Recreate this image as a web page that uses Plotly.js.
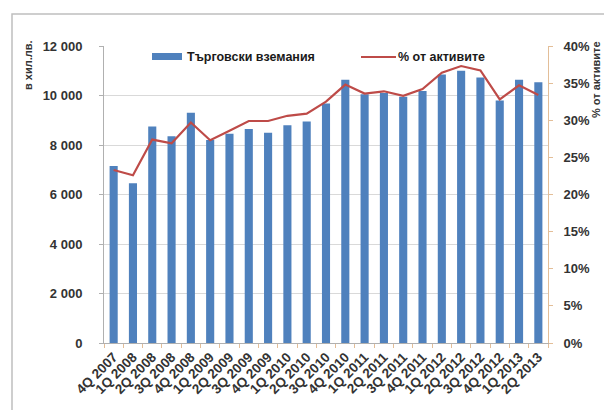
<!DOCTYPE html>
<html>
<head>
<meta charset="utf-8">
<script src="https://cdn.plot.ly/plotly-3.0.1.min.js"></script>
<style>
  html, body { margin: 0; padding: 0; background: #ffffff; }
  #chart { width: 604px; height: 410px; }
</style>
</head>
<body>
<div id="chart"></div>
<script>
// Quarters on the category axis
const quarters = [
  '4Q 2007',
  '1Q 2008', '2Q 2008', '3Q 2008', '4Q 2008',
  '1Q 2009', '2Q 2009', '3Q 2009', '4Q 2009',
  '1Q 2010', '2Q 2010', '3Q 2010', '4Q 2010',
  '1Q 2011', '2Q 2011', '3Q 2011', '4Q 2011',
  '1Q 2012', '2Q 2012', '3Q 2012', '4Q 2012',
  '1Q 2013', '2Q 2013'
];

// Trade receivables, thousand BGN
const receivables = [
  7150,
  6450, 8750, 8350, 9300,
  8200, 8450, 8650, 8500,
  8800, 8950, 9680, 10640,
  10050, 10100, 9950, 10180,
  10850, 11000, 10730, 9800,
  10640, 10540
];

// Share of total assets
const shareOfAssets = [
  0.233,
  0.226, 0.274, 0.269, 0.297,
  0.273, 0.286, 0.299, 0.299,
  0.306, 0.309, 0.325, 0.348,
  0.336, 0.339, 0.333, 0.342,
  0.364, 0.373, 0.367, 0.328,
  0.347, 0.334
];

const seriesNames = ['Търговски вземания', '% от активите'];
const leftTitle = 'в хил.лв.';
const rightTitle = '% от активите';

const W = 604, H = 410;
const M = { l: 104, r: 56, t: 46, b: 67 };
const pw = W - M.l - M.r, ph = H - M.t - M.b;
const px = x => (x - M.l) / pw;
const py = y => (H - M.b - y) / ph;

const BAR = '#4F81BD';
const LINE = '#BE4B48';
const TXT = '#333333';
const FONT = '"Liberation Sans", Arial, sans-serif';

const traces = [
  {
    type: 'bar',
    x: quarters,
    y: receivables,
    name: seriesNames[0],
    marker: { color: BAR, line: { width: 0 } },
    hoverinfo: 'x+y'
  },
  {
    type: 'scatter',
    mode: 'lines',
    x: quarters,
    y: shareOfAssets,
    yaxis: 'y2',
    name: seriesNames[1],
    line: { color: LINE, width: 2.2 },
    hoverinfo: 'x+y'
  }
];

const shapes = [
  // outer frame of the chart
  { type: 'rect', xref: 'paper', yref: 'paper',
    x0: px(12), x1: px(640), y0: py(14), y1: py(440),
    line: { color: '#BFBFBF', width: 1.5 }, fillcolor: 'rgba(0,0,0,0)', layer: 'below' },
  // legend swatches
  { type: 'rect', xref: 'paper', yref: 'paper',
    x0: px(152), x1: px(182), y0: py(53), y1: py(60),
    line: { width: 0 }, fillcolor: BAR },
  { type: 'line', xref: 'paper', yref: 'paper',
    x0: px(361), x1: px(396), y0: py(57), y1: py(57),
    line: { color: LINE, width: 2.2 } }
];

const annotations = [
  { text: seriesNames[0], xref: 'paper', yref: 'paper', x: px(185), y: py(57),
    xanchor: 'left', yanchor: 'middle', showarrow: false,
    font: { family: FONT, size: 12.5, color: '#1a1a1a', weight: 'bold' } },
  { text: seriesNames[1], xref: 'paper', yref: 'paper', x: px(396), y: py(57),
    xanchor: 'left', yanchor: 'middle', showarrow: false,
    font: { family: FONT, size: 12.5, color: '#1a1a1a', weight: 'bold' } },
  { text: leftTitle, xref: 'paper', yref: 'paper', x: px(28), y: py(65),
    xanchor: 'center', yanchor: 'middle', textangle: -90, showarrow: false,
    font: { family: FONT, size: 11, color: TXT, weight: 'bold' } },
  { text: rightTitle, xref: 'paper', yref: 'paper', x: px(596), y: py(80),
    xanchor: 'center', yanchor: 'middle', textangle: -90, showarrow: false,
    font: { family: FONT, size: 11, color: TXT, weight: 'bold' } }
];

const layout = {
  width: W, height: H,
  margin: M,
  paper_bgcolor: '#ffffff',
  plot_bgcolor: '#ffffff',
  showlegend: false,
  separators: ', ',
  bargap: 0.58,
  font: { family: FONT, color: TXT, size: 12 },
  xaxis: {
    type: 'category',
    tickmode: 'array',
    tickvals: quarters,
    ticktext: quarters,
    tickangle: -45,
    tickfont: { family: FONT, size: 13.5, color: TXT, weight: 'bold' },
    showgrid: false,
    showline: true,
    linecolor: '#B0B0B0',
    linewidth: 1,
    ticks: 'outside',
    tickson: 'boundaries',
    ticklen: 4,
    tickcolor: '#E3BE98',
    zeroline: false,
    range: [-0.5, quarters.length - 0.5]
  },
  yaxis: {
    range: [0, 12000],
    dtick: 2000,
    tick0: 0,
    tickformat: ',d',
    tickfont: { family: FONT, size: 13, color: TXT, weight: 'bold' },
    showgrid: true,
    gridcolor: '#D9D9D9',
    gridwidth: 1,
    showline: true,
    linecolor: '#B0B0B0',
    ticks: 'outside',
    ticklen: 4,
    tickcolor: '#B0B0B0',
    ticklabelstandoff: 14,
    zeroline: false
  },
  yaxis2: {
    overlaying: 'y',
    side: 'right',
    range: [0, 0.4],
    dtick: 0.05,
    tick0: 0,
    tickformat: '.0%',
    tickfont: { family: FONT, size: 13, color: TXT, weight: 'bold' },
    showgrid: false,
    showline: true,
    linecolor: '#E3BE98',
    ticks: 'outside',
    ticklen: 4,
    tickcolor: '#E3BE98',
    ticklabelstandoff: 8,
    zeroline: false
  },
  shapes: shapes,
  annotations: annotations
};

Plotly.newPlot('chart', traces, layout, { displayModeBar: false, staticPlot: true });
</script>
</body>
</html>
